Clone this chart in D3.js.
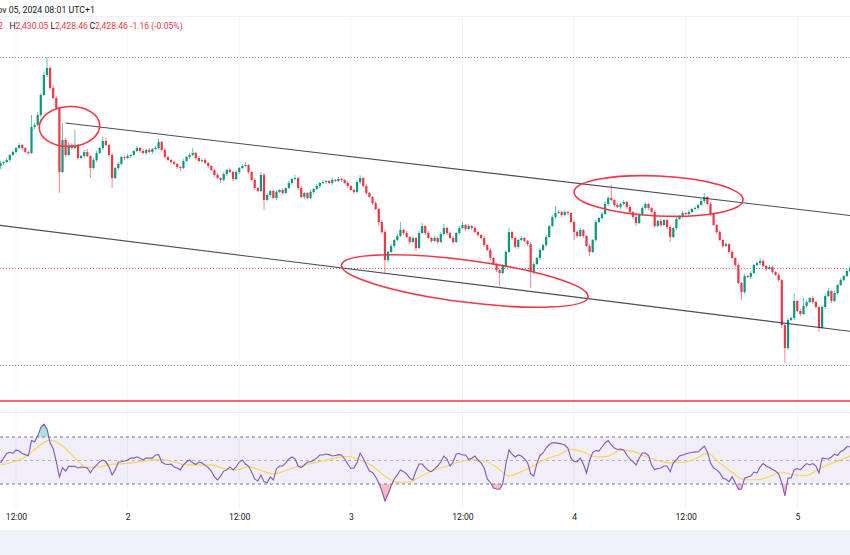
<!DOCTYPE html>
<html><head><meta charset="utf-8">
<script src="https://cdn.jsdelivr.net/npm/d3@7"></script>
<style>
body{margin:0;background:#fff;}
svg{display:block;font-family:Roboto,'Noto Sans',sans-serif;}
</style></head>
<body><svg id="chart" width="850" height="555"></svg>
<script>
// ---------- DATA ----------
const candleStartUTC = Date.UTC(2024, 10, 1, 10, 20); // first 20-minute candle
const candleMinutes = 20;
const firstOpen = 2530;
const closes = [
2533,2534,2536,2541,2544,2548,2551,2548,2544,2543,
2569,2571,2581,2601,2621,2628,2608,2598,2588,2524,
2556,2541,2551,2548,2550,2538,2540,2544,2540,2528,
2536,2543,2548,2555,2551,2541,2518,2528,2532,2539,
2538,2540,2541,2545,2548,2545,2543,2546,2544,2547,
2548,2554,2546,2539,2536,2534,2532,2529,2528,2535,
2539,2541,2543,2538,2535,2536,2533,2530,2526,2521,
2518,2516,2522,2526,2524,2517,2524,2528,2530,2531,
2524,2516,2508,2505,2521,2496,2501,2505,2498,2504,
2506,2503,2508,2513,2517,2518,2508,2499,2503,2498,
2504,2507,2510,2513,2514,2515,2513,2516,2515,2517,
2516,2513,2510,2506,2504,2514,2518,2510,2503,2499,
2493,2487,2474,2464,2436,2444,2450,2456,2460,2466,
2463,2459,2454,2458,2448,2463,2470,2463,2458,2455,
2458,2454,2462,2468,2463,2458,2454,2463,2468,2471,
2467,2470,2468,2464,2461,2458,2451,2446,2438,2432,
2426,2423,2430,2444,2464,2458,2449,2456,2458,2455,
2452,2424,2432,2438,2446,2451,2459,2470,2479,2483,
2484,2481,2484,2483,2474,2464,2460,2466,2460,2450,
2444,2456,2474,2478,2482,2492,2498,2496,2491,2489,
2492,2494,2489,2484,2479,2473,2482,2488,2492,2488,
2484,2470,2475,2471,2476,2469,2459,2468,2477,2480,
2483,2482,2484,2487,2488,2491,2495,2499,2492,2482,
2471,2464,2456,2450,2452,2444,2438,2431,2413,2404,
2420,2419,2423,2431,2433,2435,2430,2427,2429,2424,
2421,2416,2371,2348,2376,2378,2395,2385,2382,2390,
2394,2398,2394,2389,2368,2389,2400,2405,2395,2403,
2411,2416,2420,2425,2428.46];
// wick length above the body / below the body (price units)
const wickUp = [
2,1,2,1,2,1,2,1,1,1, 12,2,3,2,3,11,2,3,2,1, 17,2,3,2,16,
2,1,2,3,1, 2,2,1,4,3, 1,2,1,2,1, 1,2,1,1,2, 1,2,1,2,1,
2,3,1,2,1, 1,2,1,1,2, 1,2,5,1,2, 1,2,1,1,1, 2,1,2,1,2,
1,2,1,2,3, 1,1,2,1,3, 2,2,1,1,2, 1,2,1,2,1, 3,1,2,1,1,
2,1,2,1,2, 1,1,2,1,2, 1,1,2,1,1, 2,3,1,2,1, 1,2,1,2,2,
1,2,1,2,8, 1,2,1,2,1, 2,3,1,2,1, 2,1,2,4,1, 1,2,1,2,3,
1,2,1,2,1, 1,2,1,2,1, 1,1,2,2,4, 1,2,1,2,1, 1,2,2,1,2,
1,2,1,2,7, 2,1,2,1,1, 2,1,2,1,1, 2,1,2,1,2, 3,2,13,1,2,
1,2,1,2,1, 2,1,2,2,1, 1,2,1,2,1, 1,2,1,2,1, 2,1,2,1,2,
1,2,4,1,2, 1,1,2,1,2, 1,2,1,2,1, 2,1,2,1,2, 3,2,1,2,1,
1,2,1,1,2, 2,8,1,2,8, 2,1,2,1,1, 2,2,3,1,2, 1,2,1,2,1];
const wickDown = [
3,2,1,2,1, 2,1,2,1,2, 1,2,1,2,1, 2,2,1,2,21, 1,2,1,2,1,
2,1,2,1,10, 1,2,1,2,1, 2,10,1,2,1, 2,1,2,1,1, 2,1,2,1,2,
1,2,1,2,1, 2,1,2,3,1, 1,2,1,2,1, 2,1,2,1,2, 1,3,1,2,1,
2,1,2,1,1, 2,1,2,1,1, 10,1,2,1,2, 1,2,1,1,2, 1,2,1,2,1,
1,2,1,2,1, 2,1,2,1,1, 2,1,2,1,2, 1,2,1,2,1, 2,1,4,2,13,
2,1,2,1,1, 2,1,2,1,3, 1,1,2,1,2, 1,2,1,1,2, 1,2,1,2,1,
2,1,2,1,2, 1,2,1,2,1, 2,13,1,2,1, 2,1,2,1,1, 2,16,2,1,2,
1,2,1,1,2, 1,2,1,2,1, 8,2,1,2,1, 4,1,2,1,2, 1,2,1,2,1,
2,1,2,1,2, 3,1,2,1,2, 1,2,1,2,1, 2,5,1,2,1, 2,1,2,1,1,
2,1,2,1,2, 1,2,1,2,1, 2,1,2,1,8, 2,1,2,1,1, 2,1,2,1,2,
1,2,3,15,2, 1,2,1,2,1, 2,1,2,1,4, 1,2,1,2,1, 2,1,2,1,1];
const rsi = [
48,52,56,57,56,59,58,56,55,54,
67,66,71,78,81,77,65,60,49,36,
44,41,45,45,45,43.6,44.5,44,43.6,39.6,
43.6,46,49,50.4,49,44.5,37.7,42,48.7,49,
49.6,50.4,52.1,52,53.2,52,50.4,52,52,52,
54.7,55,48.7,47,46.6,47,44.5,43.6,42,46.2,
48.7,50.4,48,46.6,48.7,48,45.8,44,41,36,
33.4,36.7,41,42,44.5,42,44.5,48.7,50.4,47,
45.3,40.2,34.3,32.6,37.7,32,31,36,33.4,42.8,
45.3,45.3,48,51.3,53,51.3,45.3,44,46.2,48.7,
49,50.4,52,54.7,54.7,55.5,55,53.8,54.3,55,
54.7,51.3,47,43.2,43.6,48,56.4,52,46.2,41,
39.8,36,31,24,15.5,21.5,28.3,34.3,37.7,42,
40.5,38.5,35,33.4,41,47,47,44,41.5,40.5,
42.8,45.3,48.7,53.8,51.3,45.3,48.7,55.5,56,54.7,
54.7,51,52,53.8,50.4,48,43.6,34.3,31.3,26.6,
25.8,25.5,30,47,58.9,55.5,53,54.7,53.8,51.3,
48.3,38.5,36.7,47.4,54.3,56.4,60.6,63.6,65,65,
64.6,64,63.2,60.6,52,49,49,52,47,39.4,
50,56.8,58.5,58,61.5,64.9,66.9,63.2,60.6,59.4,
59.8,58.9,54.7,51.3,49.1,46.2,52,56.4,56.4,54.3,
46.2,42.3,43.2,43.6,45.3,45.3,40.5,48,50.4,53.8,
54.7,55.5,56.4,56.8,57.5,57.2,59.8,62.3,57.2,48,
43.6,42,39.4,35,34,32,36.2,31,25.5,25.8,
35,36,36.7,40.2,39.4,44.5,47.4,45.3,44,42.3,
41,38.5,31,19.8,35,35.1,42,43.2,42,45,
47.4,46.2,47.4,45.3,39.4,52,51.7,51.3,53,55.5,
54.3,57.7,59,61.7,61.7];
// RSI-based moving average, one value every 4 candles
const rsiMaStep = 4;
const rsiMa = [
46.2,48.7,53,61.5,67.4,62.3,52.1,44.2,44.7,46.9,
47.4,48.7,50.4,51,48.7,46.2,46.2,46.2,43.2,42.1,
44.5,41.5,38.5,41.5,44.9,47.4,49.6,52.3,53.4,50.4,
45.3,36.7,31.3,31.9,37.2,41.9,45.3,48.7,51,49.6,
44.5,36.7,40.6,45.7,51.3,54.7,59.4,57.2,53,53.8,
58.9,57.7,53.4,50,47.9,48.3,51.3,56,47.9,39.8,
33.6,33.6,36.4,40.2,37.7,37.2,42.8,47.4,51.7,56];
const rsiLevels = [70, 50, 30];
// drawings
const channelUpper = [{t: Date.UTC(2024,10,1,17,20), p: 2573}, {t: Date.UTC(2024,10,5,8,0), p: 2478}];
const channelLower = [{t: Date.UTC(2024,10,1,10,0), p: 2471}, {t: Date.UTC(2024,10,5,8,0), p: 2362}];
const ellipses = [
  {t1: Date.UTC(2024,10,1,14,30), p1: 2568, t2: Date.UTC(2024,10,1,21,0), p2: 2571, half: 20},
  {t1: Date.UTC(2024,10,2,23,0), p1: 2431, t2: Date.UTC(2024,10,4,1,30), p2: 2399, half: 21},
  {t1: Date.UTC(2024,10,4,0,0), p1: 2504, t2: Date.UTC(2024,10,4,18,10), p2: 2496, half: 20}
];
const visibleHigh = 2639, visibleLow = 2331;
const lastPrice = 2428.46;
const redLevel = 2295;
const headerDate = "Nov 05, 2024 08:01 UTC+1";
const ohlcLabels = ["O","H","L","C"];
const ohlcValues = ["2,429.62","2,430.05","2,428.46","2,428.46"];
const changeText = "-1.16 (-0.05%)";
const axisTickStart = Date.UTC(2024,10,1,12), axisTickEnd = Date.UTC(2024,10,5,6);

// ---------- CHART ----------
const UP = "#089981", DOWN = "#F23645", TXT = "#131722";
const svg = d3.select("#chart");
const x = d3.scaleUtc().domain([new Date(Date.UTC(2024,10,1,12)), new Date(Date.UTC(2024,10,5,0))]).range([16, 797.3]);
const y = d3.scaleLinear().domain([2284, 2696]).range([412, 0]);
const yR = d3.scaleLinear().domain([30, 70]).range([484, 437]);
const PANE_TOP = 17, PANE_BOT = 412, RSI_TOP = 413, RSI_BOT = 509;

const defs = svg.append("defs");
defs.append("clipPath").attr("id","mainClip").append("rect").attr("x",0).attr("y",PANE_TOP).attr("width",850).attr("height",PANE_BOT-PANE_TOP);
defs.append("clipPath").attr("id","rsiClip").append("rect").attr("x",0).attr("y",RSI_TOP).attr("width",850).attr("height",RSI_BOT-RSI_TOP);
defs.append("clipPath").attr("id","obClip").append("rect").attr("x",0).attr("y",RSI_TOP).attr("width",850).attr("height",yR(70)-RSI_TOP);
defs.append("clipPath").attr("id","osClip").append("rect").attr("x",0).attr("y",yR(30)).attr("width",850).attr("height",RSI_BOT-yR(30));
const gOB = defs.append("linearGradient").attr("id","obGrad").attr("x1",0).attr("x2",0).attr("y1",0).attr("y2",1);
gOB.append("stop").attr("offset","0%").attr("stop-color",UP).attr("stop-opacity",0.35);
gOB.append("stop").attr("offset","100%").attr("stop-color",UP).attr("stop-opacity",0.03);
const gOS = defs.append("linearGradient").attr("id","osGrad").attr("x1",0).attr("x2",0).attr("y1",0).attr("y2",1);
gOS.append("stop").attr("offset","0%").attr("stop-color",DOWN).attr("stop-opacity",0.03);
gOS.append("stop").attr("offset","100%").attr("stop-color",DOWN).attr("stop-opacity",0.4);

svg.append("rect").attr("width",850).attr("height",555).attr("fill","#fff");

// time ticks & grid
const ticks = d3.utcHour.every(12).range(new Date(axisTickStart), new Date(axisTickEnd));
svg.append("g").selectAll("line").data(ticks).join("line")
  .attr("x1",d=>x(d)).attr("x2",d=>x(d)).attr("y1",PANE_TOP).attr("y2",RSI_BOT)
  .attr("stroke","#f0f3fa").attr("stroke-width",1);

// header separator
svg.append("line").attr("x1",0).attr("x2",850).attr("y1",16.5).attr("y2",16.5).attr("stroke","#eef0f4");
// pane separator
svg.append("line").attr("x1",0).attr("x2",850).attr("y1",412.5).attr("y2",412.5).attr("stroke","#e8eaf0");

// candle data
const candles = closes.map((c,i)=>{
  const o = i ? closes[i-1] : firstOpen;
  return {t:new Date(candleStartUTC + i*candleMinutes*60000), o, c,
          h: Math.max(o,c)+wickUp[i], l: Math.min(o,c)-wickDown[i]};
});

const main = svg.append("g").attr("clip-path","url(#mainClip)");
// horizontal reference lines
main.selectAll("line.lvl").data([visibleHigh, visibleLow]).join("line").attr("class","lvl")
  .attr("x1",0).attr("x2",850).attr("y1",d=>Math.round(y(d))+0.5).attr("y2",d=>Math.round(y(d))+0.5)
  .attr("stroke","#9598a1").attr("stroke-width",1).attr("stroke-dasharray","1,2");
main.append("line").attr("x1",0).attr("x2",850).attr("y1",Math.round(y(lastPrice))+0.5).attr("y2",Math.round(y(lastPrice))+0.5)
  .attr("stroke",DOWN).attr("stroke-width",1).attr("stroke-dasharray","1,2").attr("opacity",0.8);

// candles
const cg = main.append("g");
cg.selectAll("line.wick").data(candles).join("line").attr("class","wick")
  .attr("x1",d=>x(d.t)).attr("x2",d=>x(d.t)).attr("y1",d=>y(d.h)).attr("y2",d=>y(d.l))
  .attr("stroke",d=>d.c>=d.o?UP:DOWN).attr("stroke-width",1).attr("opacity",0.6);
cg.selectAll("rect").data(candles).join("rect")
  .attr("x",d=>x(d.t)-1.1).attr("width",2.2)
  .attr("y",d=>y(Math.max(d.o,d.c)))
  .attr("height",d=>Math.max(1, Math.abs(y(d.o)-y(d.c))))
  .attr("fill",d=>d.c>=d.o?UP:DOWN);

// channel lines
const lineGen = d3.line().x(d=>x(new Date(d.t))).y(d=>y(d.p));
[channelUpper, channelLower].forEach(pts=>{
  main.append("path").attr("d",lineGen(pts)).attr("fill","none").attr("stroke","#2a2e39").attr("stroke-width",1.1).attr("opacity",0.85);
});
// ellipses
ellipses.forEach(e=>{
  const x1=x(new Date(e.t1)), y1=y(e.p1), x2=x(new Date(e.t2)), y2=y(e.p2);
  const cx=(x1+x2)/2, cy=(y1+y2)/2, rx=Math.hypot(x2-x1,y2-y1)/2;
  const ang=Math.atan2(y2-y1,x2-x1)*180/Math.PI;
  const ry=Math.abs(y(e.p1)-y(e.p1+e.half));
  main.append("ellipse").attr("cx",0).attr("cy",0).attr("rx",rx).attr("ry",ry)
    .attr("transform",`translate(${cx},${cy}) rotate(${ang})`)
    .attr("fill","none").attr("stroke",DOWN).attr("stroke-width",1.6);
});
// red horizontal line
main.append("line").attr("x1",0).attr("x2",850).attr("y1",y(redLevel)).attr("y2",y(redLevel))
  .attr("stroke",DOWN).attr("stroke-width",1.6);

// ---------- RSI pane ----------
const rg = svg.append("g").attr("clip-path","url(#rsiClip)");
rg.append("rect").attr("x",0).attr("width",850).attr("y",yR(70)).attr("height",yR(30)-yR(70)).attr("fill","rgba(126,87,194,0.1)");
rg.selectAll("line.lv").data(rsiLevels).join("line").attr("class","lv")
  .attr("x1",0).attr("x2",850).attr("y1",d=>yR(d)).attr("y2",d=>yR(d))
  .attr("stroke",d=>d===50?"#b2b5be":"#787b86").attr("stroke-width",1).attr("stroke-dasharray","3,3");
const rsiPts = rsi.map((v,i)=>({t:candles[i].t, v}));
const ob = d3.area().x(d=>x(d.t)).y0(yR(70)).y1(d=>yR(d.v));
const os = d3.area().x(d=>x(d.t)).y0(yR(30)).y1(d=>yR(d.v));
rg.append("path").attr("d",ob(rsiPts)).attr("fill","url(#obGrad)").attr("clip-path","url(#obClip)");
rg.append("path").attr("d",os(rsiPts)).attr("fill","url(#osGrad)").attr("clip-path","url(#osClip)");
const maPts = rsiMa.map((v,k)=>({t:new Date(candleStartUTC + k*rsiMaStep*candleMinutes*60000), v}));
rg.append("path").attr("d",d3.line().x(d=>x(d.t)).y(d=>yR(d.v)).curve(d3.curveMonotoneX)(maPts))
  .attr("fill","none").attr("stroke","#F5D657").attr("stroke-width",1.2);
rg.append("path").attr("d",d3.line().x(d=>x(d.t)).y(d=>yR(d.v))(rsiPts))
  .attr("fill","none").attr("stroke","#7E57C2").attr("stroke-width",1.1);

// ---------- time axis ----------
const axis = d3.axisBottom(x).tickValues(ticks).tickSize(0).tickPadding(0)
  .tickFormat(d=>d.getUTCHours()===0 ? String(d.getUTCDate()) : "12:00");
const ax = svg.append("g").attr("transform","translate(0,514)").call(axis);
ax.select(".domain").remove();
ax.selectAll("text").attr("font-size","8.6px").attr("fill",TXT).attr("dy","0.71em").attr("font-family","Roboto,'Noto Sans',sans-serif");
svg.append("rect").attr("x",0).attr("y",530).attr("width",850).attr("height",25).attr("fill","#f0f3fa");

// ---------- header ----------
svg.append("text").attr("x",-9).attr("y",12.5).attr("font-size","8.8px").attr("fill",TXT).text(headerDate);
const hdr = svg.append("g").attr("font-size","8.6px");
const labX = [-36, 9.5, 50.5, 89.5];
const valX = [-30, 15.5, 55, 95];
ohlcLabels.forEach((l,i)=>{
  hdr.append("text").attr("x",labX[i]).attr("y",28.5).attr("fill",TXT).text(l);
  hdr.append("text").attr("x",valX[i]).attr("y",28.5).attr("fill",DOWN).text(ohlcValues[i]);
});
hdr.append("text").attr("x",130).attr("y",28.5).attr("fill",DOWN).text(changeText);
</script>
</body></html>
